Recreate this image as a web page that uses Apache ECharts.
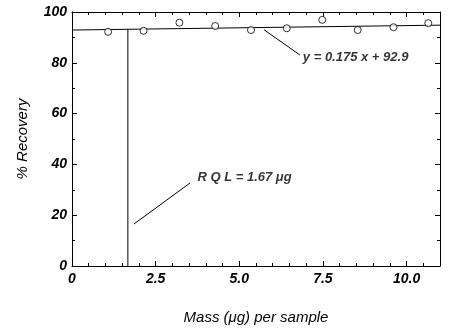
<!DOCTYPE html>
<html>
<head>
<meta charset="utf-8">
<script src="https://cdn.jsdelivr.net/npm/echarts@6/dist/echarts.min.js"></script>
<style>
  html, body { margin: 0; padding: 0; background: #fff; }
  #chart { width: 450px; height: 333px; }
</style>
</head>
<body>
<div id="chart"></div>
<script>
// measured points: mass (µg) and recovery (%)
const massValues = [1.08, 2.14, 3.21, 4.28, 5.35, 6.42, 7.48, 8.54, 9.61, 10.65]
const recoveryValues = [92.2, 92.6, 95.8, 94.5, 92.9, 93.6, 96.9, 92.9, 94.0, 95.6]
// fitted line y = 0.175 x + 92.9
const fitSlope = 0.175
const fitIntercept = 92.9
const rql = 1.67
const xMax = 11
const xTicks = [0, 2.5, 5.0, 7.5, 10.0]
const yTicks = [0, 20, 40, 60, 80, 100]
const fitLabel = 'y = 0.175 x + 92.9'
const rqlLabel = 'R Q L = 1.67 μg'

const fitAt = (x) => fitIntercept + fitSlope * x
const ink = '#000'
const labelFont = 'Liberation Sans, Arial, sans-serif'

const points = massValues.map((m, i) => [m, recoveryValues[i]])

const baseAxis = {
  axisLine: { show: true, onZero: false, lineStyle: { color: ink, width: 1 } },
  axisTick: { show: true, inside: true, length: 5, lineStyle: { color: ink } },
  minorTick: { show: true, splitNumber: 5, length: 3, lineStyle: { color: ink } },
  splitLine: { show: false },
  minorSplitLine: { show: false }
}

const option = {
  animation: false,
  backgroundColor: '#fff',
  grid: { left: 72, right: 10, top: 12, bottom: 67 },
  xAxis: [
    {
      ...baseAxis,
      type: 'value',
      min: 0,
      max: xMax,
      interval: 2.5,
      name: 'Mass (μg) per sample',
      nameLocation: 'middle',
      nameGap: 44,
      nameTextStyle: { fontFamily: labelFont, fontStyle: 'italic', fontSize: 15, color: ink },
      axisLabel: {
        color: ink,
        fontFamily: labelFont,
        fontStyle: 'italic',
        fontWeight: 'bold',
        fontSize: 14,
        margin: 6,
        showMaxLabel: false,
        formatter: (v) => (xTicks.includes(v) ? (v === 0 ? '0' : v.toFixed(1)) : '')
      }
    },
    {
      ...baseAxis,
      type: 'value',
      position: 'top',
      min: 0,
      max: xMax,
      interval: 2.5,
      axisLabel: { show: false }
    }
  ],
  yAxis: [
    {
      ...baseAxis,
      type: 'value',
      min: 0,
      max: 100,
      interval: 20,
      minorTick: { ...baseAxis.minorTick, splitNumber: 2 },
      name: '% Recovery',
      nameLocation: 'middle',
      nameGap: 42,
      nameTextStyle: { fontFamily: labelFont, fontStyle: 'italic', fontSize: 15, color: ink },
      axisLabel: {
        color: ink,
        fontFamily: labelFont,
        fontStyle: 'italic',
        fontWeight: 'bold',
        fontSize: 14,
        margin: 5,
        formatter: (v) => (yTicks.includes(v) ? String(v) : '')
      }
    },
    {
      ...baseAxis,
      type: 'value',
      position: 'right',
      min: 0,
      max: 100,
      interval: 20,
      minorTick: { ...baseAxis.minorTick, splitNumber: 2 },
      axisLabel: { show: false }
    }
  ],
  series: [
    {
      type: 'line',
      data: [[0, fitAt(0)], [xMax, fitAt(xMax)]],
      symbol: 'none',
      lineStyle: { color: ink, width: 1 },
      z: 2
    },
    {
      type: 'line',
      data: [[rql, 0], [rql, fitAt(rql)]],
      symbol: 'none',
      lineStyle: { color: ink, width: 1 },
      z: 2
    },
    {
      // leader to fit label
      type: 'line',
      data: [[5.74, 93.0], [6.81, 83.1]],
      symbol: 'none',
      lineStyle: { color: ink, width: 1 }
    },
    {
      // leader to RQL label
      type: 'line',
      data: [[1.85, 16.5], [3.53, 32.7]],
      symbol: 'none',
      lineStyle: { color: ink, width: 1 }
    },
    {
      type: 'scatter',
      data: points,
      symbol: 'circle',
      symbolSize: 7,
      itemStyle: { color: '#fff', borderColor: ink, borderWidth: 1 },
      z: 5
    },
    {
      type: 'scatter',
      symbolSize: 0,
      data: [
        { value: [6.9, 82.3], label: { formatter: fitLabel } },
        { value: [3.75, 35.0], label: { formatter: rqlLabel } }
      ],
      label: {
        show: true,
        position: 'right',
        distance: 0,
        color: ink,
        fontFamily: labelFont,
        fontStyle: 'italic',
        fontWeight: 'bold',
        fontSize: 13
      },
      silent: true
    }
  ]
}

const myChart = echarts.init(document.getElementById('chart'))
myChart.setOption(option)
</script>
</body>
</html>
